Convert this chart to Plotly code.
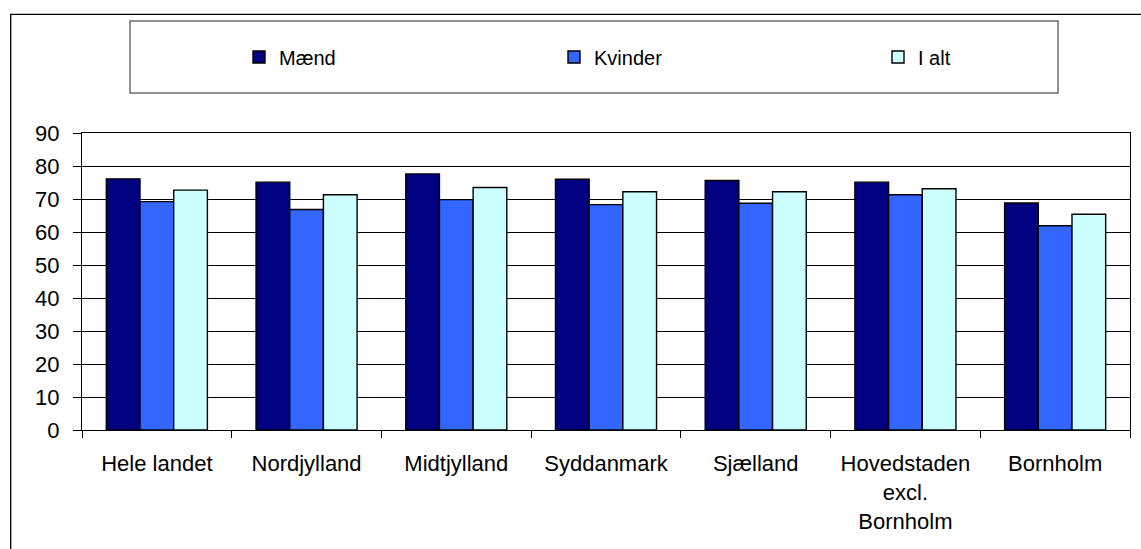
import plotly.graph_objects as go

categories = ["Hele landet", "Nordjylland", "Midtjylland", "Syddanmark", "Sjælland",
              "Hovedstaden<br>excl.<br>Bornholm", "Bornholm"]
maend = [76.1, 75.1, 77.6, 76.0, 75.6, 75.1, 68.8]
kvinder = [69.2, 66.8, 69.8, 68.3, 68.7, 71.3, 61.9]
i_alt = [72.7, 71.3, 73.5, 72.2, 72.2, 73.1, 65.4]
series_names = ["Mænd", "Kvinder", "I alt"]
y_ticks = [0, 10, 20, 30, 40, 50, 60, 70, 80, 90]

W, H = 1141, 549
L, R, T, B = 82, 1130, 133, 430

def px_x(x):
    return (x - L) / (R - L)

def px_y(y):
    return (B - y) / (B - T)

colors = ["#000080", "#3366FF", "#CCFFFF"]
legend_ids = ["legend", "legend2", "legend3"]
legend_x = [239, 554, 878]

font = "Liberation Sans, Arial, sans-serif"
fig = go.Figure()
for name, vals, c, lid in zip(series_names, [maend, kvinder, i_alt], colors, legend_ids):
    fig.add_trace(go.Bar(x=categories, y=vals, name=name, legend=lid,
                         marker=dict(color=c, line=dict(color="black", width=1.4))))

legend_common = dict(orientation="h", yanchor="middle", y=px_y(57), xanchor="left",
                     bgcolor="rgba(0,0,0,0)",
                     font=dict(family=font, size=20, color="black"))

fig.update_layout(
    width=W, height=H,
    margin=dict(l=L, r=W - R, t=T, b=H - B, autoexpand=False),
    paper_bgcolor="white", plot_bgcolor="white",
    barmode="group", bargap=0.325, bargroupgap=0,
    font=dict(family=font, size=22, color="black"),
    showlegend=True,
    legend=dict(x=px_x(legend_x[0]), **legend_common),
    legend2=dict(x=px_x(legend_x[1]), **legend_common),
    legend3=dict(x=px_x(legend_x[2]), **legend_common),
    xaxis=dict(showline=True, linecolor="black", linewidth=1, mirror=True,
               ticks="outside", tickson="boundaries", ticklen=7, tickcolor="black",
               showgrid=False, ticklabelstandoff=14,
               tickfont=dict(family=font, size=22, color="black")),
    yaxis=dict(range=[0, 90], tickvals=y_ticks, showline=True, linecolor="black",
               linewidth=1, mirror=True, ticks="outside", ticklen=8, tickcolor="black",
               showgrid=True, gridcolor="black", gridwidth=1, zeroline=False,
               ticklabelstandoff=9,
               tickfont=dict(family=font, size=22, color="black")),
)

# outer chart frame
fig.add_shape(type="rect", xref="paper", yref="paper",
              x0=px_x(10.7), x1=px_x(1160), y0=px_y(570), y1=px_y(14.3),
              line=dict(color="black", width=1.3), fillcolor="rgba(0,0,0,0)", layer="below")
# legend box
fig.add_shape(type="rect", xref="paper", yref="paper",
              x0=px_x(130), x1=px_x(1058), y0=px_y(93), y1=px_y(21),
              line=dict(color="#6e6e6e", width=1.5), fillcolor="rgba(0,0,0,0)", layer="below")

fig.write_html("out.html", config={"displayModeBar": False},
               post_script="document.body.style.margin='0';document.body.style.overflow='hidden';")
